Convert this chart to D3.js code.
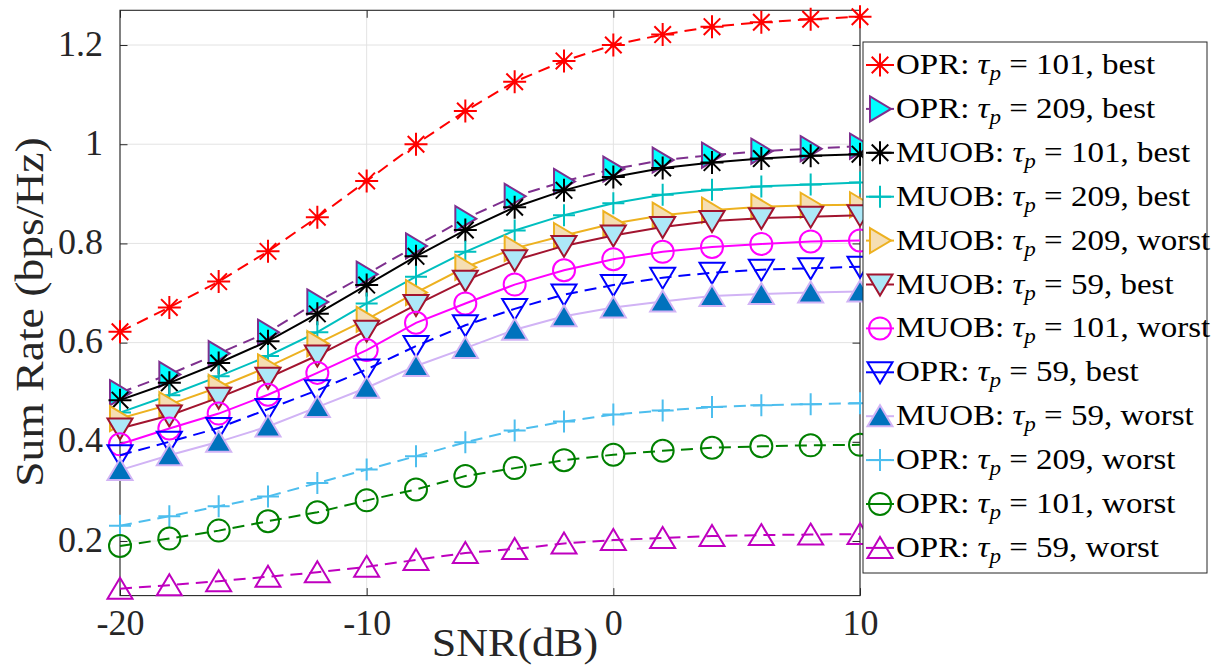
<!DOCTYPE html>
<html>
<head>
<meta charset="utf-8">
<script src="https://cdn.jsdelivr.net/npm/d3@7"></script>
<style>
  html, body { margin: 0; padding: 0; background: #fff; }
  svg { display: block; }
  svg text { font-family: "Liberation Serif", "DejaVu Serif", "Times New Roman", serif; }
</style>
</head>
<body>
<svg id="chart" width="1217" height="668"></svg>
<script>
// SNR sweep (dB)
const snr = [-20, -18, -16, -14, -12, -10, -8, -6, -4, -2, 0, 2, 4, 6, 8, 10];

// Sum rate (bps/Hz) per scheme
const opr101Best   = [0.622, 0.671, 0.723, 0.784, 0.853, 0.926, 1.000, 1.067, 1.126, 1.168, 1.200, 1.221, 1.237, 1.246, 1.252, 1.257];
const opr209Best   = [0.499, 0.536, 0.578, 0.621, 0.682, 0.738, 0.795, 0.850, 0.895, 0.925, 0.950, 0.968, 0.978, 0.986, 0.991, 0.996];
const muob101Best  = [0.484, 0.519, 0.559, 0.603, 0.658, 0.716, 0.774, 0.827, 0.873, 0.907, 0.934, 0.952, 0.963, 0.971, 0.977, 0.980];
const muob209Best  = [0.459, 0.494, 0.532, 0.573, 0.621, 0.679, 0.733, 0.783, 0.826, 0.857, 0.881, 0.898, 0.908, 0.915, 0.919, 0.923];
const muob209Worst = [0.447, 0.475, 0.510, 0.551, 0.598, 0.647, 0.701, 0.752, 0.790, 0.816, 0.840, 0.857, 0.867, 0.874, 0.877, 0.878];
const muob59Best   = [0.427, 0.453, 0.489, 0.529, 0.574, 0.624, 0.676, 0.725, 0.766, 0.795, 0.816, 0.833, 0.845, 0.851, 0.854, 0.857];
const muob101Worst = [0.395, 0.427, 0.457, 0.495, 0.539, 0.585, 0.640, 0.679, 0.717, 0.746, 0.768, 0.783, 0.793, 0.799, 0.804, 0.806];
const opr59Best    = [0.373, 0.400, 0.428, 0.466, 0.504, 0.546, 0.593, 0.635, 0.668, 0.697, 0.716, 0.731, 0.741, 0.747, 0.750, 0.753];
const muob59Worst  = [0.343, 0.373, 0.400, 0.431, 0.470, 0.509, 0.553, 0.589, 0.626, 0.653, 0.671, 0.683, 0.694, 0.698, 0.701, 0.703];
const opr209Worst  = [0.231, 0.250, 0.270, 0.290, 0.317, 0.344, 0.371, 0.399, 0.423, 0.441, 0.455, 0.463, 0.470, 0.474, 0.476, 0.478];
const opr101Worst  = [0.190, 0.205, 0.221, 0.240, 0.258, 0.282, 0.304, 0.331, 0.347, 0.363, 0.374, 0.382, 0.388, 0.391, 0.393, 0.394];
const opr59Worst   = [0.104, 0.111, 0.119, 0.128, 0.137, 0.148, 0.162, 0.176, 0.184, 0.195, 0.202, 0.206, 0.210, 0.212, 0.213, 0.214];

// Legend pieces: scheme, pilot length, case
const schemeNames = ["OPR", "OPR", "MUOB", "MUOB", "MUOB", "MUOB", "MUOB", "OPR", "MUOB", "OPR", "OPR", "OPR"];
const pilotLengths = [101, 209, 101, 209, 209, 59, 101, 59, 59, 209, 101, 59];
const caseNames = ["best", "best", "best", "best", "worst", "best", "worst", "best", "worst", "worst", "worst", "worst"];

// Axis ticks
const xTicks = [-20, -10, 0, 10];
const xTickLabels = ["-20", "-10", "0", "10"];
const yTicks = [0.2, 0.4, 0.6, 0.8, 1.0, 1.2];
const yTickLabels = ["0.2", "0.4", "0.6", "0.8", "1", "1.2"];

const xLabel = "SNR(dB)";
const yLabel = "Sum Rate (bps/Hz)";

// Styling per series (line colour, dash, marker, marker fill)
const styles = [
  { color: "#FF0000", dash: true,  marker: "asterisk", fill: "none" },
  { color: "#7E2F8E", dash: true,  marker: "triRight", fill: "#00FFFF" },
  { color: "#000000", dash: false, marker: "asterisk", fill: "none" },
  { color: "#00BFBF", dash: false, marker: "plus",     fill: "none" },
  { color: "#EDB120", dash: false, marker: "triRight", fill: "#F5DEB3" },
  { color: "#A2142F", dash: false, marker: "triDown",  fill: "#ADE8F8" },
  { color: "#FF00FF", dash: false, marker: "circle",   fill: "none" },
  { color: "#0000FF", dash: true,  marker: "triDown",  fill: "none" },
  { color: "#D1B3F5", dash: false, marker: "triUp",    fill: "#0072BD" },
  { color: "#4DBEEE", dash: true,  marker: "plus",     fill: "none" },
  { color: "#008000", dash: true,  marker: "circle",   fill: "none" },
  { color: "#BF00BF", dash: true,  marker: "triUp",    fill: "none" }
];

const seriesValues = [opr101Best, opr209Best, muob101Best, muob209Best, muob209Worst, muob59Best,
                      muob101Worst, opr59Best, muob59Worst, opr209Worst, opr101Worst, opr59Worst];

const plot = { left: 120, right: 860, top: 10.3, bottom: 595.6 };
const axisColor = "#262626";
const serif = "'Liberation Serif', 'DejaVu Serif', 'Times New Roman', serif";
const cmWiden = 1.1; // widen serif runs toward Computer Modern proportions

const svg = d3.select("#chart");

const x = d3.scaleLinear().domain([-20, 10]).range([plot.left, plot.right]);
const y = d3.scaleLinear().domain([0.09, 1.27]).range([plot.bottom, plot.top]);

// Grid lines
const grid = svg.append("g");
grid.selectAll("line.gx").data(xTicks).join("line")
  .attr("x1", d => x(d)).attr("x2", d => x(d))
  .attr("y1", plot.top).attr("y2", plot.bottom)
  .attr("stroke", "#E3E3E3").attr("stroke-width", 1);
grid.selectAll("line.gy").data(yTicks).join("line")
  .attr("x1", plot.left).attr("x2", plot.right)
  .attr("y1", d => y(d)).attr("y2", d => y(d))
  .attr("stroke", "#E3E3E3").attr("stroke-width", 1);

// Axes with inward ticks on all four sides
const tickLen = 7.5;
const axB = d3.axisBottom(x).tickValues(xTicks).tickSize(-tickLen).tickFormat((d, i) => xTickLabels[i]).tickPadding(14);
const axT = d3.axisTop(x).tickValues(xTicks).tickSize(-tickLen).tickFormat("");
const axL = d3.axisLeft(y).tickValues(yTicks).tickSize(-tickLen).tickFormat((d, i) => yTickLabels[i]).tickPadding(17);
const axR = d3.axisRight(y).tickValues(yTicks).tickSize(-tickLen).tickFormat("");

function styleAxis(g) {
  g.attr("font-family", serif).attr("font-size", 36);
  g.selectAll(".tick line").attr("stroke", axisColor).attr("stroke-width", 1);
  g.selectAll(".tick text").attr("fill", axisColor).style("font-family", serif).attr("font-size", 36);
}
const gB = svg.append("g").attr("transform", `translate(0,${plot.bottom})`).call(axB).call(styleAxis);
gB.selectAll(".tick text").attr("dy", "0.71em");
svg.append("g").attr("transform", `translate(0,${plot.top})`).call(axT).call(styleAxis);
const gL = svg.append("g").attr("transform", `translate(${plot.left},0)`).call(axL).call(styleAxis);
gL.selectAll(".tick text").attr("dy", "0.28em");
svg.append("g").attr("transform", `translate(${plot.right},0)`).call(axR).call(styleAxis);
svg.selectAll("path.domain").remove();
svg.append("rect")
  .attr("x", plot.left).attr("y", plot.top)
  .attr("width", plot.right - plot.left).attr("height", plot.bottom - plot.top)
  .attr("fill", "none").attr("stroke", axisColor).attr("stroke-width", 1.1);

// Marker shapes
function markerPath(kind) {
  switch (kind) {
    case "asterisk": {
      const s = 11.5, d = s * 0.72;
      return `M${-s},0H${s}M0,${-s}V${s}M${-d},${-d}L${d},${d}M${-d},${d}L${d},${-d}`;
    }
    case "plus": {
      const s = 11;
      return `M${-s},0H${s}M0,${-s}V${s}`;
    }
    case "circle": {
      const r = 11;
      return `M${r},0A${r},${r} 0 1,1 ${-r},0A${r},${r} 0 1,1 ${r},0Z`;
    }
    case "triRight": return "M-10,-12.5L11,0L-10,12.5Z";
    case "triDown":  return "M-12.5,-10L12.5,-10L0,11Z";
    case "triUp":    return "M0,-11L12.5,10L-12.5,10Z";
  }
}

const line = d3.line().x(d => x(d[0])).y(d => y(d[1]));

// Series: line then its markers, in plotting order
const gSeries = svg.append("g");
seriesValues.forEach((vals, i) => {
  const st = styles[i];
  const pts = snr.map((s, k) => [s, vals[k]]);
  const g = gSeries.append("g");
  g.append("path")
    .attr("d", line(pts))
    .attr("fill", "none")
    .attr("stroke", st.color)
    .attr("stroke-width", 2)
    .attr("stroke-dasharray", st.dash ? "12,7" : null);
  g.selectAll("path.mk").data(pts).join("path")
    .attr("class", "mk")
    .attr("transform", d => `translate(${x(d[0])},${y(d[1])})`)
    .attr("d", markerPath(st.marker))
    .attr("fill", st.fill)
    .attr("stroke", st.color)
    .attr("stroke-width", 2);
});

// Axis labels
const xl = svg.append("text")
  .attr("x", 515).attr("y", 656)
  .attr("text-anchor", "middle")
  .style("font-family", serif)
  .attr("font-size", 40).attr("fill", axisColor)
  .text(xLabel);
xl.attr("textLength", xl.node().getComputedTextLength() * cmWiden).attr("lengthAdjust", "spacingAndGlyphs");

const yl = svg.append("text")
  .attr("transform", "translate(43,312) rotate(-90)")
  .attr("text-anchor", "middle")
  .style("font-family", serif)
  .attr("font-size", 40).attr("fill", axisColor)
  .text(yLabel);
yl.attr("textLength", yl.node().getComputedTextLength() * 1.14).attr("lengthAdjust", "spacingAndGlyphs");

// Legend
const leg = { x: 863, y: 42, w: 344, h: 531, row0: 65, step: 43.9 };
const gLeg = svg.append("g");
gLeg.append("rect")
  .attr("x", leg.x).attr("y", leg.y).attr("width", leg.w).attr("height", leg.h)
  .attr("fill", "#fff").attr("stroke", axisColor).attr("stroke-width", 1);

styles.forEach((st, i) => {
  const cy = leg.row0 + i * leg.step;
  gLeg.append("line")
    .attr("x1", 866).attr("x2", 894).attr("y1", cy).attr("y2", cy)
    .attr("stroke", st.color).attr("stroke-width", 2);
  gLeg.append("path")
    .attr("transform", `translate(880,${cy})`)
    .attr("d", markerPath(st.marker))
    .attr("fill", st.fill).attr("stroke", st.color).attr("stroke-width", 2);
  const t = gLeg.append("text")
    .attr("x", 896).attr("y", cy + 9)
    .style("font-family", serif)
    .attr("font-size", 30).attr("fill", "#000");
  t.append("tspan").text(`${schemeNames[i]}: `);
  t.append("tspan").attr("font-style", "italic").text("τ");
  t.append("tspan").attr("font-style", "italic").attr("font-size", 21).attr("dy", 6).text("p");
  t.append("tspan").attr("dy", -6).text(` = ${pilotLengths[i]}, ${caseNames[i]}`);
  t.attr("textLength", t.node().getComputedTextLength() * cmWiden).attr("lengthAdjust", "spacingAndGlyphs");
});
</script>
</body>
</html>
